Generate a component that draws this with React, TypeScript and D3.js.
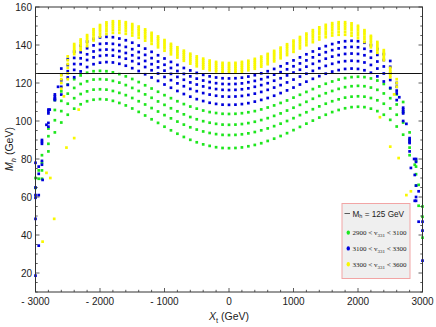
import React from 'react';
import * as d3 from 'd3';

// X_t grid of the scan, one point every 100 GeV
const xtGrid = d3.range(-3000, 3001, 100);

// 2900 < v331 < 3100
const green1 = [null, 69.6, 84, 94.0, 99.2, 103.3, 106.5, 108.8, 110.4, 111.2, 111.5, 111.3, 110.6, 109.5, 108.2, 106.6, 104.8, 102.9, 100.9, 99.0, 97.0, 95.1, 93.3, 91.6, 90.1, 88.8, 87.7, 86.9, 86.2, 85.8, 85.7,
  85.8, 86.1, 86.7, 87.4, 88.3, 89.5, 90.7, 92.1, 93.6, 95.2, 96.9, 98.6, 100.2, 101.8, 103.3, 104.7, 105.8, 106.7, 107.3, 107.5, 107.3, 106.5, 105.2, 103.3, 100.6, 97.1, 92.8, 82, 66, 38.6];
const green2 = [null, 74, 88, 100.4, 105.2, 109.1, 112.0, 114.2, 115.6, 116.5, 116.7, 116.5, 115.8, 114.8, 113.6, 112.1, 110.4, 108.7, 106.8, 105.0, 103.1, 101.4, 99.7, 98.1, 96.7, 95.5, 94.5, 93.7, 93.1, 92.7, 92.6,
  92.7, 93.0, 93.5, 94.2, 95.1, 96.1, 97.3, 98.6, 100.0, 101.5, 103.1, 104.6, 106.2, 107.7, 109.1, 110.4, 111.4, 112.3, 112.8, 113.0, 112.8, 112.1, 110.9, 109.1, 106.6, 103.3, 99.2, 86, 72, 49.6];
const green3 = [64.8, 78, 92, 105.8, 110.6, 114.4, 117.4, 119.5, 120.9, 121.8, 122.0, 121.8, 121.1, 120.2, 118.9, 117.4, 115.8, 114.0, 112.2, 110.3, 108.5, 106.7, 105.1, 103.5, 102.1, 100.9, 99.9, 99.1, 98.5, 98.1, 98.0,
  98.1, 98.4, 98.9, 99.6, 100.5, 101.5, 102.7, 104.0, 105.5, 107.0, 108.5, 110.1, 111.7, 113.2, 114.6, 115.8, 116.9, 117.8, 118.3, 118.5, 118.3, 117.6, 116.4, 114.5, 112.0, 108.7, 104.6, 90, 76, 55];
const green4 = [70, 82, 96, 111.0, 115.6, 119.2, 122.0, 124.0, 125.4, 126.2, 126.4, 126.2, 125.6, 124.7, 123.5, 122.1, 120.5, 118.8, 117.1, 115.4, 113.6, 112.0, 110.4, 108.9, 107.6, 106.5, 105.5, 104.7, 104.2, 103.8, 103.7,
  103.8, 104.1, 104.6, 105.2, 106.1, 107.1, 108.2, 109.5, 110.8, 112.3, 113.8, 115.3, 116.8, 118.2, 119.6, 120.8, 121.8, 122.6, 123.1, 123.3, 123.1, 122.4, 121.3, 119.5, 117.1, 114.0, 110.0, 94, 79, null];

// 3100 < v331 < 3300
const blue1 = [48.5, 77, 97, 111, 113.9, 119.0, 123.0, 126.1, 128.4, 129.9, 130.7, 131.0, 130.8, 130.1, 129.1, 127.8, 126.3, 124.6, 122.9, 121.1, 119.2, 117.5, 115.8, 114.2, 112.8, 111.5, 110.5, 109.6, 109.0, 108.6, 108.5,
  108.6, 108.9, 109.4, 110.2, 111.1, 112.1, 113.3, 114.7, 116.1, 117.6, 119.2, 120.7, 122.2, 123.6, 124.9, 126.0, 126.8, 127.4, 127.6, 127.4, 126.7, 125.4, 123.5, 120.8, 117.4, 111, 100, 84, 58, null];
const blue2 = [59.6, 79, 99, 111.5, 118.0, 122.9, 126.9, 129.9, 132.1, 133.5, 134.3, 134.6, 134.4, 133.7, 132.8, 131.5, 130.1, 128.4, 126.7, 125.0, 123.2, 121.5, 119.8, 118.3, 116.9, 115.7, 114.7, 113.9, 113.3, 112.9, 112.8,
  112.9, 113.2, 113.7, 114.4, 115.3, 116.4, 117.6, 118.9, 120.3, 121.8, 123.4, 124.9, 126.4, 127.8, 129.0, 130.1, 131.0, 131.5, 131.7, 131.5, 130.8, 129.5, 127.6, 125.0, 121.6, 114.5, 104, 88.4, 60, null];
const blue3 = [61, 88, 104, 112, 121.4, 126.2, 130.0, 133.0, 135.1, 136.6, 137.4, 137.6, 137.4, 136.8, 135.8, 134.6, 133.2, 131.6, 129.9, 128.2, 126.5, 124.8, 123.2, 121.7, 120.3, 119.2, 118.2, 117.4, 116.8, 116.4, 116.3,
  116.4, 116.7, 117.2, 118.0, 118.9, 119.9, 121.2, 122.5, 124.0, 125.5, 127.0, 128.6, 130.1, 131.5, 132.8, 133.9, 134.7, 135.3, 135.5, 135.3, 134.6, 133.3, 131.3, 128.7, 125.2, 116, 105, 89, 66, 26.5];
const blue4 = [65, 89, 105, 113, 124.5, 129.4, 133.2, 136.2, 138.3, 139.8, 140.6, 140.8, 140.6, 140.0, 139.0, 137.8, 136.3, 134.8, 133.1, 131.3, 129.6, 127.9, 126.3, 124.8, 123.5, 122.3, 121.3, 120.5, 119.9, 119.5, 119.4,
  119.5, 119.8, 120.4, 121.1, 122.0, 123.1, 124.4, 125.7, 127.2, 128.8, 130.3, 131.9, 133.5, 134.9, 136.2, 137.3, 138.2, 138.8, 139.0, 138.8, 138.0, 136.7, 134.8, 132.1, 128.5, 118, 106, 90, 78.5, 42.3];
const blue5 = [78, 90, 106, 114, 127.6, 132.6, 136.5, 139.6, 141.8, 143.2, 144.0, 144.3, 144.1, 143.4, 142.5, 141.2, 139.7, 138.1, 136.4, 134.6, 132.9, 131.1, 129.5, 127.9, 126.6, 125.3, 124.3, 123.5, 122.9, 122.5, 122.4,
  122.5, 122.8, 123.4, 124.1, 125.1, 126.2, 127.4, 128.8, 130.3, 131.9, 133.5, 135.1, 136.6, 138.1, 139.4, 140.5, 141.4, 142.0, 142.2, 142.0, 141.2, 139.9, 137.9, 135.2, 131.6, 120, 107, 91, 80, 47];

// 3300 < v331 < 3600
const yellow1 = [null, null, null, null, null, 122, 135.2, 137.4, 139.4, 142.4, 144.5, 145.8, 146.4, 146.4, 145.9, 145.0, 143.8, 142.3, 140.6, 138.8, 137.0, 135.1, 133.4, 131.7, 130.2, 128.8, 127.6, 126.7, 126.1, 125.6, 125.5,
  125.6, 126.0, 126.7, 127.5, 128.6, 129.9, 131.4, 133.0, 134.7, 136.4, 138.2, 139.9, 141.5, 142.9, 144.1, 145.0, 145.4, 145.4, 144.9, 143.6, 141.6, 138.8, 135.9, 132.0, 123, null, null, null, null, null];
const yellow2 = [null, null, null, null, null, 125, 136.3, 138.6, 140.8, 143.8, 146.0, 147.3, 147.9, 147.9, 147.4, 146.5, 145.2, 143.7, 142.0, 140.1, 138.3, 136.4, 134.6, 132.8, 131.3, 129.9, 128.7, 127.7, 127.1, 126.6, 126.5,
  126.6, 127.0, 127.7, 128.6, 129.7, 131.0, 132.5, 134.2, 135.9, 137.7, 139.5, 141.3, 142.9, 144.3, 145.6, 146.5, 146.9, 146.9, 146.3, 145.1, 143.0, 140.1, 137.2, 133.1, 124, null, null, null, null, null];
const yellow3 = [null, null, null, null, 117, 128, 137.4, 139.8, 142.0, 145.1, 147.3, 148.6, 149.2, 149.2, 148.7, 147.8, 146.5, 144.9, 143.2, 141.3, 139.4, 137.5, 135.7, 133.9, 132.3, 130.9, 129.7, 128.8, 128.1, 127.6, 127.5,
  127.6, 128.1, 128.7, 129.6, 130.8, 132.2, 133.7, 135.4, 137.1, 139.0, 140.8, 142.6, 144.3, 145.8, 147.0, 147.9, 148.4, 148.4, 147.8, 146.5, 144.4, 141.4, 138.4, 134.2, 125, null, null, null, null, null];
const yellow4 = [null, null, null, null, 120, 130, 138.4, 140.9, 143.1, 146.2, 148.4, 149.8, 150.4, 150.4, 149.9, 149.0, 147.7, 146.1, 144.3, 142.5, 140.5, 138.6, 136.7, 135.0, 133.4, 132.0, 130.7, 129.8, 129.1, 128.6, 128.5,
  128.6, 129.1, 129.7, 130.7, 131.8, 133.2, 134.8, 136.5, 138.3, 140.1, 142.0, 143.8, 145.5, 147.0, 148.3, 149.2, 149.7, 149.7, 149.1, 147.8, 145.7, 142.6, 139.5, 135.3, 126, 118, null, null, null, null];
const yellow5 = [null, null, null, null, 122, 132, 139.5, 141.9, 144.2, 147.3, 149.5, 150.9, 151.5, 151.5, 151.0, 150.0, 148.7, 147.2, 145.4, 143.5, 141.6, 139.6, 137.8, 136.0, 134.4, 133.0, 131.8, 130.8, 130.1, 129.6, 129.5,
  129.6, 130.1, 130.7, 131.7, 132.9, 134.3, 135.8, 137.6, 139.4, 141.3, 143.1, 145.0, 146.7, 148.2, 149.5, 150.4, 150.9, 150.9, 150.3, 149.0, 146.8, 143.8, 140.6, 136.3, 127, 120, null, null, null, null];
const yellow6 = [null, null, null, null, 124, 134, 140.5, 142.9, 145.2, 148.3, 150.5, 151.9, 152.5, 152.5, 152.0, 151.0, 149.7, 148.2, 146.4, 144.5, 142.6, 140.6, 138.8, 137.0, 135.4, 134.0, 132.8, 131.8, 131.1, 130.6, 130.5,
  130.6, 131.1, 131.7, 132.7, 133.9, 135.3, 136.9, 138.6, 140.4, 142.3, 144.2, 146.0, 147.8, 149.3, 150.6, 151.5, 152.0, 152.0, 151.4, 150.1, 147.8, 144.8, 141.6, 137.3, 128, 122, null, null, null, null];

// scattered points near the edges of the scan: [X_t, M_h]
const greenExtra = [[-2950, 74], [-2950, 69.6], [2940, 55.4], [2940, 66.4], [2880, 77]];
const blueExtra = [[-2950, 76], [-2950, 61], [-2950, 34.4], [-3000, 18.6], [-2890, 69], [-2950, 72.2], [-2650, 118], [-2780, 106], [-2830, 98],
  [2640, 112.5], [2750, 98.5], [2820, 75.3], [2880, 71.6], [2880, 58], [2940, 47], [2940, 63], [2870, 80]];
const yellowExtra = [[-2330, 106], [-2400, 91], [-2520, 86], [-2560, 113], [-2770, 70], [-2830, 72.7], [-2710, 48.5], [-2890, 36.5],
  [2340, 102], [2500, 86.5], [2560, 114], [2630, 80.5], [2750, 61], [2820, 63], [2700, 36]];

const legendLabels = [['2900', '3100'], ['3100', '3300'], ['3300', '3600']];

const groups = [
  { name: 'green', color: '#1ee61e', curves: [green1, green2, green3, green4], extra: greenExtra },
  { name: 'blue', color: '#0000dc', curves: [blue1, blue2, blue3, blue4, blue5], extra: blueExtra },
  { name: 'yellow', color: '#f8f800', curves: [yellow1, yellow2, yellow3, yellow4, yellow5, yellow6], extra: yellowExtra },
];

const fmtX = (d: number) => (d < 0 ? `- ${-d}` : `${d}`);

export default function App() {
  const width = 436;
  const height = 327;
  const left = 35.5;
  const right = 422.5;
  const top = 7;
  const bottom = 292;

  const x = d3.scaleLinear().domain([-3000, 3000]).range([left, right]);
  const y = d3.scaleLinear().domain([10, 160]).range([bottom, top]);

  const xMajor = x.ticks(6);
  const xMinor = x.ticks(30).filter(d => !xMajor.includes(d));
  const yMajor = y.ticks(8);
  const yMinor = y.ticks(30).filter(d => !yMajor.includes(d));
  const s = 2.7; // dot size

  const axisColor = '#333';
  const sans = 'Liberation Sans, Arial, sans-serif';
  const serif = 'Liberation Serif, Times New Roman, serif';

  return (
    <svg width={width} height={height} style={{ position: 'absolute', left: 0, top: 0, background: '#fff' }}>
      {groups.map(g => (
        <g key={g.name} fill={g.color}>
          {g.curves.map((c, i) => c.map((v, j) => (v == null ? null : (
            <rect key={`${i}-${j}`} x={x(xtGrid[j]) - s / 2} y={y(v) - s / 2} width={s} height={s} />
          ))))}
          {g.extra.map(([xt, m], j) => (
            <rect key={`e${j}`} x={x(xt) - s / 2} y={y(m) - s / 2} width={s} height={s} />
          ))}
        </g>
      ))}

      <line x1={left} x2={right} y1={y(125)} y2={y(125)} stroke="#111" strokeWidth={1} />

      <rect x={left} y={top} width={right - left} height={bottom - top} fill="none" stroke={axisColor} strokeWidth={1} />

      <g stroke={axisColor} strokeWidth={0.8}>
        {xMajor.map(d => (
          <g key={`xM${d}`}>
            <line x1={x(d)} x2={x(d)} y1={bottom} y2={bottom - 4} />
            <line x1={x(d)} x2={x(d)} y1={top} y2={top + 4} />
          </g>
        ))}
        {xMinor.map(d => (
          <g key={`xm${d}`}>
            <line x1={x(d)} x2={x(d)} y1={bottom} y2={bottom - 2.2} />
            <line x1={x(d)} x2={x(d)} y1={top} y2={top + 2.2} />
          </g>
        ))}
        {yMajor.map(d => (
          <g key={`yM${d}`}>
            <line x1={left} x2={left + 4} y1={y(d)} y2={y(d)} />
            <line x1={right} x2={right - 4} y1={y(d)} y2={y(d)} />
          </g>
        ))}
        {yMinor.map(d => (
          <g key={`ym${d}`}>
            <line x1={left} x2={left + 2.2} y1={y(d)} y2={y(d)} />
            <line x1={right} x2={right - 2.2} y1={y(d)} y2={y(d)} />
          </g>
        ))}
      </g>

      <g fontFamily={sans} fontSize={10} fill="#222">
        {xMajor.map(d => (
          <text key={`xl${d}`} x={x(d)} y={305} textAnchor="middle">{fmtX(d)}</text>
        ))}
        {yMajor.map(d => (
          <text key={`yl${d}`} x={32} y={y(d)} dy="0.35em" textAnchor="end">{d}</text>
        ))}
      </g>

      <text x={229} y={320} textAnchor="middle" fontFamily={sans} fontSize={10.5} fill="#222">
        <tspan fontStyle="italic">X</tspan>
        <tspan fontSize={7.5} dy={2.5}>t</tspan>
        <tspan dy={-2.5}> (GeV)</tspan>
      </text>

      <text transform="translate(13,149) rotate(-90)" textAnchor="middle" fontFamily={sans} fontSize={10.5} fill="#222">
        <tspan fontStyle="italic">M</tspan>
        <tspan fontSize={7.5} fontStyle="italic" dy={2.5}>h</tspan>
        <tspan dy={-2.5}> (GeV)</tspan>
      </text>

      <g>
        <rect x={342} y={203.5} width={68} height={75} fill="#efefef" stroke="#f2a5a5" strokeWidth={1} />
        <line x1={344.5} x2={350} y1={213.5} y2={213.5} stroke="#333" strokeWidth={0.8} />
        <text x={352.5} y={216.5} fontFamily={sans} fontSize={8.2} fill="#222">
          M<tspan fontSize={5.5} dy={1.8}>h</tspan><tspan dy={-1.8}> = 125 GeV</tspan>
        </text>
        {groups.map((g, i) => (
          <g key={`lg${g.name}`}>
            <ellipse cx={348.3} cy={232.6 + i * 15.8} rx={1.7} ry={2.2} fill={g.color} />
            <text x={352.5} y={235.3 + i * 15.8} fontFamily={serif} fontSize={7} fill="#222">
              {legendLabels[i][0]} &lt; v<tspan fontSize={5} dy={1.6}>331</tspan><tspan dy={-1.6}> &lt; {legendLabels[i][1]}</tspan>
            </text>
          </g>
        ))}
      </g>
    </svg>
  );
}
